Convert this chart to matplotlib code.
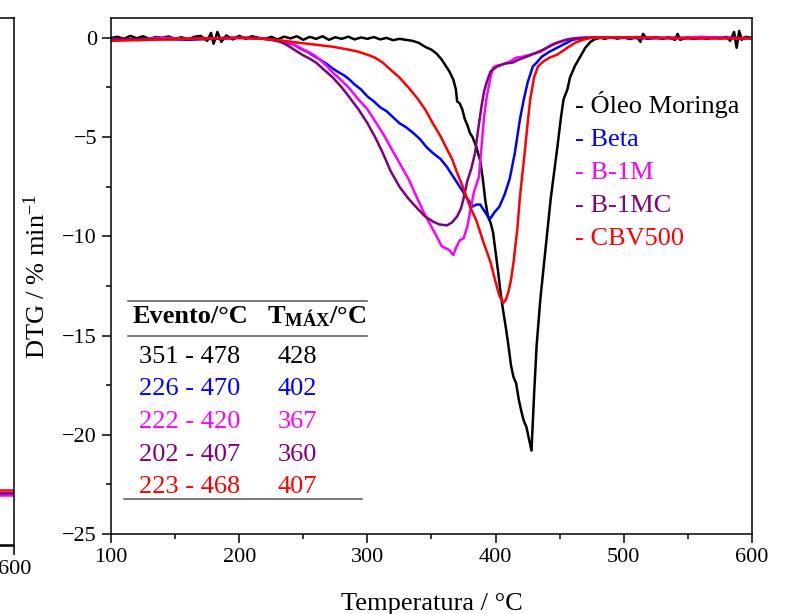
import matplotlib
matplotlib.use("Agg")
import matplotlib.pyplot as plt
from matplotlib.ticker import MultipleLocator

plt.rcParams['font.family'] = ['Liberation Serif', 'DejaVu Serif']
plt.rcParams['mathtext.fontset'] = 'custom'
plt.rcParams['mathtext.rm'] = 'Liberation Serif'
plt.rcParams['mathtext.it'] = 'Liberation Serif:italic'
plt.rcParams['mathtext.bf'] = 'Liberation Serif:bold'

# ---- data ----
oleo_T = [100, 105, 110, 115, 120, 125, 130, 135, 140, 145, 150, 155, 160, 165, 170, 175, 178, 180,
          183, 186, 190, 195, 200, 205, 210, 215, 220, 225, 230, 235, 240, 245, 250, 255, 260, 265,
          270, 275, 280, 285, 290, 295, 300, 305, 310, 315, 320, 325, 330, 335, 340, 345, 350, 354,
          358, 361, 364, 367, 369, 370, 372, 374, 376, 378, 380, 382, 385, 388, 390, 392, 394, 396,
          398, 400, 402, 404, 406, 408, 410, 412, 414, 416, 418, 420, 422, 424, 426, 428, 430, 432,
          435, 439, 443, 448, 451, 453, 456, 458, 462, 466, 470, 474, 478, 482, 485, 490, 495, 500,
          505, 510, 513, 515, 518, 525, 530, 535, 540, 542, 544, 550, 555, 560, 565, 570, 575, 580,
          583, 586, 588, 590, 592, 595, 600]
oleo_v = [0.0, 0.05, -0.05, 0.1, -0.02, 0.08, -0.06, 0.04, 0.0, 0.07, -0.05, 0.03, -0.08, 0.05, 0.1,
          -0.15, 0.25, -0.3, 0.3, -0.2, 0.12, -0.08, 0.1, -0.05, 0.08, 0.0, -0.06, 0.05, -0.08, 0.06,
          -0.03, 0.08, -0.1, 0.05, -0.05, 0.08, -0.1, 0.03, -0.05, 0.06, -0.08, 0.02, -0.05, 0.04,
          -0.08, 0.0, -0.12, -0.05, -0.1, -0.15, -0.25, -0.45, -0.6, -0.8, -1.1, -1.4, -1.7, -2.1,
          -2.6, -3.2, -3.3, -3.6, -4.1, -4.4, -4.8, -5.0, -5.5, -6.2, -7.1, -8.2, -9.0, -9.3, -9.8,
          -10.8, -11.8, -12.9, -13.8, -14.6, -15.5, -16.5, -17.1, -17.4, -18.2, -18.8, -19.3, -19.6,
          -20.2, -20.8, -18.0, -15.5, -13.1, -10.6, -8.1, -5.6, -4.0, -3.1, -2.6, -2.0, -1.4, -0.95,
          -0.5, -0.2, -0.05, 0.0, -0.05, 0.03, -0.04, 0.02, -0.06, 0.05, -0.2, 0.2, -0.05, 0.03,
          -0.05, 0.02, -0.1, 0.2, -0.1, 0.03, -0.06, 0.02, -0.05, 0.04, -0.03, 0.05, -0.15, 0.3,
          -0.5, 0.35, -0.1, 0.05, 0.0]

beta_T = [100, 120, 140, 160, 180, 200, 215, 225, 232, 237, 243, 248, 253, 258, 263, 268, 273, 278,
          282, 286, 290, 295, 300, 305, 310, 315, 320, 325, 330, 335, 341, 346, 351, 357, 362, 367,
          372, 377, 382, 385, 388, 391, 394, 396, 399, 403, 407, 411, 415, 419, 422, 425, 429, 432,
          436, 442, 448, 454, 460, 470, 480, 500, 520, 540, 560, 580, 600]
beta_v = [-0.05, -0.1, -0.05, -0.1, -0.05, 0.0, -0.02, -0.08, -0.15, -0.25, -0.35, -0.55, -0.7, -0.9,
          -1.1, -1.3, -1.55, -1.75, -1.9, -2.1, -2.35, -2.6, -2.95, -3.2, -3.5, -3.7, -4.0, -4.3,
          -4.5, -4.75, -5.1, -5.5, -5.8, -6.1, -6.5, -7.0, -7.5, -8.0, -8.5, -8.4, -8.4, -8.7, -9.0,
          -9.1, -8.8, -8.5, -7.9, -7.1, -5.8, -4.1, -3.1, -2.25, -1.45, -1.25, -0.95, -0.7, -0.5,
          -0.3, -0.1, 0.0, 0.02, 0.0, -0.03, 0.0, -0.02, 0.0, -0.03]

b1m_T = [100, 120, 140, 160, 180, 200, 215, 225, 235, 241, 246, 252, 258, 263, 268, 273, 279, 286,
         293, 300, 306, 312, 318, 325, 332, 339, 344, 349, 354, 358, 361, 364, 367, 369, 372, 375,
         378, 380, 383, 387, 389, 391, 393, 396, 398, 401, 405, 411, 416, 421, 427, 435, 440, 445,
         450, 458, 470, 500, 540, 560, 580, 600]
b1m_v = [-0.05, -0.1, 0.0, -0.05, -0.02, 0.0, -0.02, -0.08, -0.2, -0.3, -0.45, -0.65, -0.85, -1.1,
         -1.4, -1.75, -2.1, -2.55, -3.1, -3.6, -4.2, -4.8, -5.5, -6.3, -7.1, -8.1, -8.8, -9.4, -10.0,
         -10.5, -10.6, -10.7, -10.95, -10.6, -10.2, -10.1, -9.5, -8.8, -7.8, -7.0, -5.5, -4.0, -3.0,
         -2.0, -1.5, -1.4, -1.35, -1.2, -1.0, -0.95, -0.85, -0.7, -0.5, -0.3, -0.2, -0.05, 0.0, 0.03,
         -0.02, 0.05, 0.0, -0.02]

b1mc_T = [100, 130, 160, 200, 215, 225, 232, 237, 243, 249, 255, 260, 266, 273, 280, 286, 293, 300,
          306, 312, 318, 325, 332, 339, 345, 351, 356, 362, 366, 370, 373, 375, 378, 381, 384, 386,
          389, 391, 393, 396, 401, 407, 413, 418, 424, 430, 437, 443, 448, 455, 465, 500, 550, 600]
b1mc_v = [-0.05, -0.08, -0.05, 0.0, -0.02, -0.1, -0.2, -0.35, -0.6, -0.85, -1.05, -1.25, -1.6, -2.0,
          -2.5, -3.0, -3.6, -4.3, -5.0, -5.8, -6.7, -7.5, -8.1, -8.6, -9.0, -9.25, -9.4, -9.45, -9.3,
          -9.0, -8.6, -8.1, -7.2, -6.6, -5.8, -4.8, -3.45, -2.7, -2.25, -1.7, -1.45, -1.3, -1.25,
          -1.1, -0.95, -0.8, -0.6, -0.4, -0.25, -0.1, 0.0, 0.02, -0.02, 0.0]

cbv_T = [100, 120, 140, 160, 180, 200, 220, 235, 247, 260, 273, 286, 293, 300, 306, 312, 318, 325,
         332, 339, 345, 351, 357, 362, 366, 370, 375, 380, 385, 390, 396, 400, 403, 406, 408, 410,
         412, 414, 417, 419, 421, 423, 425, 427, 430, 433, 437, 442, 448, 456, 462, 468, 475, 500,
         550, 600]
cbv_v = [-0.15, -0.12, -0.08, -0.05, -0.02, 0.0, -0.05, -0.15, -0.25, -0.35, -0.45, -0.6, -0.7,
         -0.85, -1.0, -1.25, -1.6, -2.0, -2.5, -3.05, -3.6, -4.3, -4.95, -5.6, -6.1, -6.8, -7.6,
         -8.5, -9.2, -10.2, -11.3, -12.3, -13.0, -13.35, -13.2, -12.8, -12.2, -11.3, -9.6, -8.0,
         -6.8, -5.6, -4.3, -3.1, -2.0, -1.45, -1.2, -1.0, -0.85, -0.5, -0.25, -0.1, 0.0, 0.02,
         -0.02, -0.03]

names = ['Óleo Moringa', 'Beta', 'B-1M', 'B-1MC', 'CBV500']
colors = ['black', '#0000FF', '#FF00FF', '#800080', '#FF0000']
series = [(oleo_T, oleo_v), (beta_T, beta_v), (b1m_T, b1m_v), (b1mc_T, b1mc_v), (cbv_T, cbv_v)]

eventos = ['351 - 478', '226 - 470', '222 - 420', '202 - 407', '223 - 468']
tmax = ['428', '402', '367', '360', '407']

# tail of the neighbouring (cropped) TG panel
tg_T = [550, 575, 600]
tg_mass = {'Óleo Moringa': [0.2, 0.2, 0.2], 'Beta': [10.1, 10.0, 10.0],
           'B-1M': [9.8, 9.7, 9.7], 'B-1MC': [10.0, 10.0, 10.0], 'CBV500': [10.7, 10.6, 10.6]}

fig = plt.figure(figsize=(7.94, 6.14), dpi=100)

# cropped left panel
axl = fig.add_axes([-0.482, 0.1107, 0.5, 0.86])
for n, c in zip(names, colors):
    axl.plot(tg_T, tg_mass[n], color=c, lw=1.8)
axl.set_xlim(100, 600)
axl.set_ylim(0, 100)
axl.set_xticks([600])
axl.set_yticks([])
axl.tick_params(axis='x', direction='out', length=6.5, width=1.1, labelsize=16)
for s in axl.spines.values():
    s.set_linewidth(1.1)

# main DTG panel
ax = fig.add_axes([0.1398, 0.1303, 0.8073, 0.8404])
for (t, v), n, c in zip(series, names, colors):
    ax.plot(t, v, color=c, lw=1.8, label=n)

ax.set_xlim(100, 600)
ax.set_ylim(-25, 1)
ax.xaxis.set_major_locator(MultipleLocator(100))
ax.xaxis.set_minor_locator(MultipleLocator(50))
ax.yaxis.set_major_locator(MultipleLocator(5))
ax.yaxis.set_minor_locator(MultipleLocator(2.5))
ax.tick_params(which='major', direction='out', length=6.5, width=1.1, labelsize=16)
ax.tick_params(which='minor', direction='out', length=3.5, width=1.1)
for s in ax.spines.values():
    s.set_linewidth(1.1)

ax.set_xlabel('Temperatura / °C', fontsize=19, labelpad=19)
ax.set_ylabel('DTG / % min$^{-1}$', fontsize=19, labelpad=9)

# legend as coloured text
leg_y = [0.816, 0.752, 0.688, 0.624, 0.560]
for n, c, y in zip(names, colors, leg_y):
    ax.text(0.724, y, '- ' + n, color=c, fontsize=19, transform=ax.transAxes, va='baseline')

# table
tr = ax.transAxes
ax.plot([0.0265, 0.4], [0.4521, 0.4521], color='#555555', lw=1.1, transform=tr, clip_on=False)
ax.plot([0.0265, 0.4], [0.3843, 0.3843], color='#555555', lw=1.1, transform=tr, clip_on=False)
ax.plot([0.0203, 0.392], [0.0678, 0.0678], color='#555555', lw=1.1, transform=tr, clip_on=False)
ax.text(0.0334, 0.409, 'Evento/°C', fontsize=19, fontweight='bold', transform=tr, va='baseline')
ax.text(0.2434, 0.409, r'$\mathbf{T_{MÁX}}$/°C', fontsize=19, fontweight='bold',
        transform=tr, va='baseline')
row_y = [0.3314, 0.2694, 0.2054, 0.1415, 0.0795]
for e, t, c, y in zip(eventos, tmax, colors, row_y):
    ax.text(0.0437, y, e, color=c, fontsize=19, transform=tr, va='baseline')
    ax.text(0.2598, y, t, color=c, fontsize=19, transform=tr, va='baseline')

fig.savefig('out.png', dpi=100)
